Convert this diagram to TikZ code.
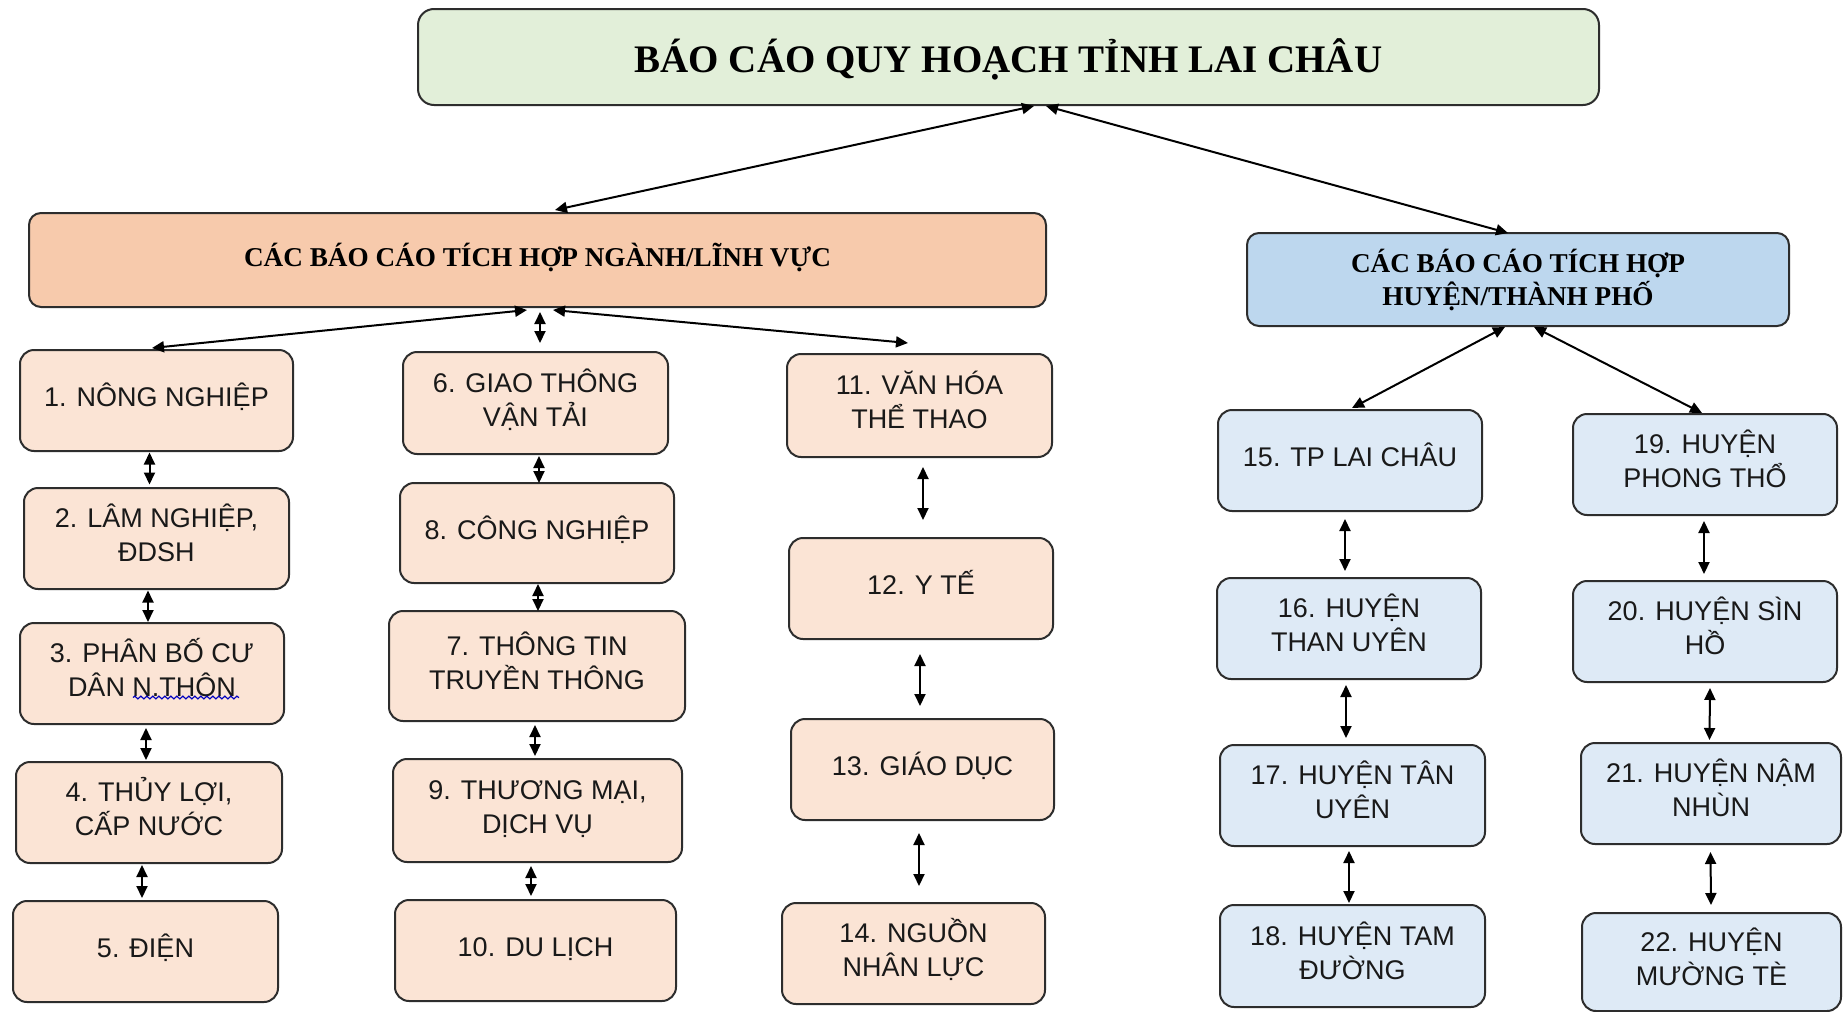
\documentclass[tikz,border=0pt]{standalone}
\usepackage{fontspec}
\setmainfont{Liberation Serif}
\setsansfont{Liberation Sans}
\usetikzlibrary{arrows.meta,decorations.pathmorphing}

\definecolor{titlefill}{RGB}{226,239,217}
\definecolor{sectorhead}{RGB}{247,202,172}
\definecolor{sectorfill}{RGB}{251,228,213}
\definecolor{districthead}{RGB}{189,215,238}
\definecolor{districtfill}{RGB}{222,234,246}
\definecolor{edgegray}{RGB}{45,45,45}
\definecolor{inkgray}{RGB}{25,25,25}

% box given by its corners: name, x1, y1, x2, y2, style, text
\newcommand\boxat[7]{\node[#6, minimum width={(#4-#2)*0.5pt}, minimum height={(#5-#3)*0.5pt}] (#1) at ({(#2+#4)/2},{(#3+#5)/2}) {#7};}
% same, with fixed first-line height and last-line depth so every label sits alike
\newcommand\cellat[7]{\boxat{#1}{#2}{#3}{#4}{#5}{#6}{\rule{0pt}{14pt}#7\rule[-7.9pt]{0pt}{7.9pt}}}
% vertical double link: upper, lower, x offset upper, x offset lower, gap upper, gap lower
\newcommand\vlink[6]{\draw[link] ([shift={(#3,#5)}]#1.south) -- ([shift={(#4,-#6)}]#2.north);}

\tikzset{
  box/.style={draw=edgegray, line width=1pt, rounded corners=7pt, inner sep=0pt, outer sep=0pt,
    align=center, text=inkgray, font=\sffamily\fontsize{13.5}{17}\selectfont},
  sector/.style={box, fill=sectorfill},
  district/.style={box, fill=districtfill},
  head/.style={draw=edgegray, line width=1pt, rounded corners=6pt, inner sep=0pt, outer sep=0pt,
    align=center, text=black, font=\rmfamily\bfseries\fontsize{13.6}{16.5}\selectfont},
  link/.style={draw=black, line width=1pt,
    {Triangle[length=6pt,width=5.5pt]}-{Triangle[length=6pt,width=5.5pt]}},
}

\begin{document}
\begin{tikzpicture}[x=0.5pt, y=-0.5pt]
\fill[white] (0,0) rectangle (1843,1012);
\useasboundingbox (0,0) rectangle (1843,1012);

% headers
\boxat{top}{418}{9}{1599}{105}{head, fill=titlefill, rounded corners=8pt, font=\rmfamily\bfseries\fontsize{19.5}{23}\selectfont}{\rule{0pt}{19pt}BÁO CÁO QUY HOẠCH TỈNH LAI CHÂU\rule[-3.5pt]{0pt}{3.5pt}}
\boxat{sec}{29}{213}{1046}{307}{head, fill=sectorhead}{\rule{0pt}{12.5pt}CÁC BÁO CÁO TÍCH HỢP NGÀNH/LĨNH VỰC\rule[-6.5pt]{0pt}{6.5pt}}
\boxat{dist}{1247}{233}{1789}{326}{head, fill=districthead}{CÁC BÁO CÁO TÍCH HỢP\\HUYỆN/THÀNH PHỐ}

% sector reports
\cellat{n1}{20}{350}{293}{451}{sector}{1. NÔNG NGHIỆP}
\cellat{n2}{24}{488}{289}{589}{sector}{2. LÂM NGHIỆP,\\ĐDSH}
\cellat{n3}{20}{623}{284}{724}{sector}{3. PHÂN BỐ CƯ\\DÂN N.THÔN}
\cellat{n4}{16}{762}{282}{863}{sector}{4. THỦY LỢI,\\CẤP NƯỚC}
\cellat{n5}{13}{901}{278}{1002}{sector}{5. ĐIỆN}
\cellat{n6}{403}{352}{668}{454}{sector}{6. GIAO THÔNG\\VẬN TẢI}
\cellat{n8}{400}{483}{674}{583}{sector}{8. CÔNG NGHIỆP}
\cellat{n7}{389}{611}{685}{721}{sector}{7. THÔNG TIN\\TRUYỀN THÔNG}
\cellat{n9}{393}{759}{682}{862}{sector}{9. THƯƠNG MẠI,\\DỊCH VỤ}
\cellat{n10}{395}{900}{676}{1001}{sector}{10. DU LỊCH}
\cellat{n11}{787}{354}{1052}{457}{sector}{11. VĂN HÓA\\THỂ THAO}
\cellat{n12}{789}{538}{1053}{639}{sector}{12. Y TẾ}
\cellat{n13}{791}{719}{1054}{820}{sector}{13. GIÁO DỤC}
\cellat{n14}{782}{903}{1045}{1004}{sector}{14. NGUỒN\\NHÂN LỰC}

% district reports
\cellat{n15}{1218}{410}{1482}{511}{district}{15. TP LAI CHÂU}
\cellat{n16}{1217}{578}{1481}{679}{district}{16. HUYỆN\\THAN UYÊN}
\cellat{n17}{1220}{745}{1485}{846}{district}{17. HUYỆN TÂN\\UYÊN}
\cellat{n18}{1220}{905}{1485}{1007}{district}{18. HUYỆN TAM\\ĐƯỜNG}
\cellat{n19}{1573}{414}{1837}{515}{district}{19. HUYỆN\\PHONG THỔ}
\cellat{n20}{1573}{581}{1837}{682}{district}{20. HUYỆN SÌN\\HỒ}
\cellat{n21}{1581}{743}{1841}{844}{district}{21. HUYỆN NẬM\\NHÙN}
\cellat{n22}{1582}{913}{1841}{1011}{district}{22. HUYỆN\\MƯỜNG TÈ}

% spelling mark under the abbreviation
\draw[blue!75!black, line width=0.6pt, decorate, decoration={snake, amplitude=0.7pt, segment length=3pt}]
  ([shift={(-19,24)}]n3.center) -- ([shift={(87,24)}]n3.center);

% links from the title
\draw[link] ([shift={(25.5,1)}]top.south) -- ([shift={(17.5,-3)}]sec.north);
\draw[link] ([shift={(37.5,1)}]top.south) -- ([shift={(-10,0)}]dist.north);

% links from the sector header
\draw[link] ([shift={(-10.5,3)}]sec.south) -- ([shift={(-4.5,-2)}]n1.north);
\draw[link] ([shift={(2.5,5)}]sec.south) -- ([shift={(4.5,-9)}]n6.north);
\draw[link] ([shift={(15.5,3)}]sec.south) -- ([shift={(-11.5,-11)}]n11.north);

% links from the district header
\draw[link] ([shift={(-13,1)}]dist.south) -- ([shift={(2,-2)}]n15.north);
\draw[link] ([shift={(16,1)}]dist.south) -- ([shift={(-3,-1)}]n19.north);

% column links
\vlink{n1}{n2}{-7}{-7}{1.5}{3.5}
\vlink{n2}{n3}{-8.5}{-4}{1.5}{1}
\vlink{n3}{n4}{-6}{-3}{4}{2}
\vlink{n4}{n5}{-7}{-3.5}{2}{3}
\vlink{n6}{n8}{3.5}{2}{2}{0}
\vlink{n8}{n7}{1}{1}{1}{0}
\vlink{n7}{n9}{-2}{-2.5}{4}{3}
\vlink{n9}{n10}{-6.5}{-4.5}{4}{4}
\vlink{n11}{n12}{3.5}{2}{10}{18}
\vlink{n12}{n13}{-1}{-2.5}{15}{13}
\vlink{n13}{n14}{-3.5}{5.5}{13}{17}
\vlink{n15}{n16}{-5}{-4}{8}{7}
\vlink{n16}{n17}{-3}{-6.5}{6}{7}
\vlink{n17}{n18}{-3.5}{-3.5}{5}{2}
\vlink{n19}{n20}{-1}{-1}{6}{7}
\vlink{n20}{n21}{5}{-1.5}{6}{3}
\vlink{n21}{n22}{-0.5}{-0.5}{8}{8}
\end{tikzpicture}
\end{document}
